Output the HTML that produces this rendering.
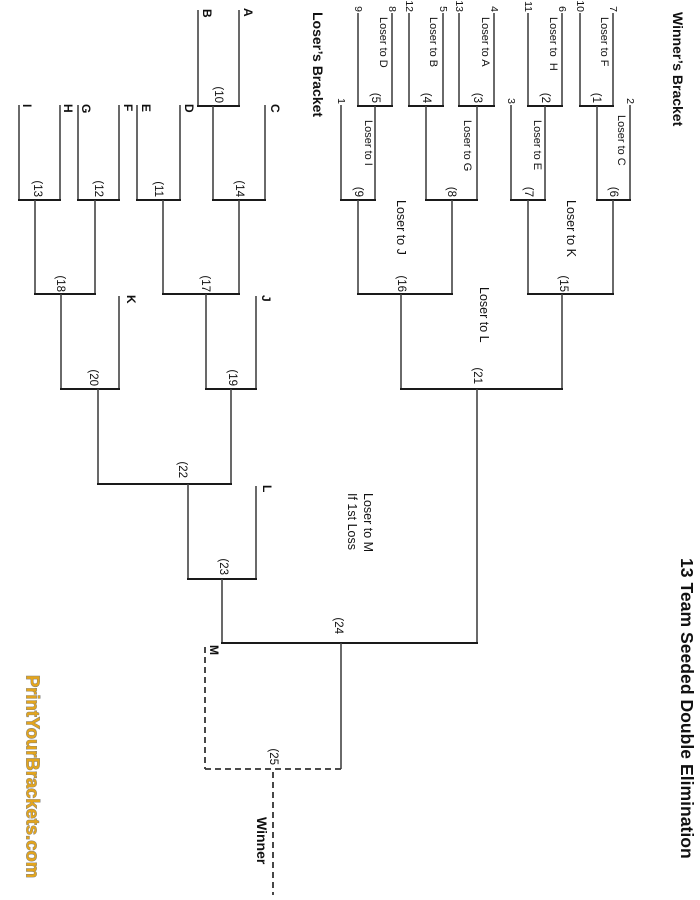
<!DOCTYPE html>
<html>
<head>
<meta charset="utf-8">
<style>
  html,body{margin:0;padding:0;background:#fff;}
  svg{display:block;}
  text{font-family:"Liberation Sans",Arial,sans-serif;fill:#111;}
  .h{stroke:#1a1a1a;stroke-width:2;fill:none;}
  .v{stroke:#444;stroke-width:1.6;fill:none;}
  .d{stroke:#333;stroke-width:1.8;fill:none;stroke-dasharray:6 4;}
  .lbl{font-size:11px;}
  .lbl2{font-size:12.5px;}
  .num{font-size:11.5px;}
  .seed{font-size:10.5px;}
  .team{font-size:12px;font-weight:bold;}
</style>
</head>
<body>
<svg width="700" height="900" viewBox="0 0 700 900" xmlns="http://www.w3.org/2000/svg">

<!-- ===== Winner's bracket lines ===== -->
<!-- M1 -->
<line class="v" x1="613" y1="13" x2="613" y2="106"/>
<line class="v" x1="580" y1="13" x2="580" y2="106"/>
<line class="h" x1="579" y1="106" x2="614" y2="106"/>
<!-- M2 -->
<line class="v" x1="562" y1="13" x2="562" y2="106"/>
<line class="v" x1="528" y1="13" x2="528" y2="106"/>
<line class="h" x1="527" y1="106" x2="563" y2="106"/>
<!-- M6 -->
<line class="v" x1="630" y1="105" x2="630" y2="200"/>
<line class="v" x1="597" y1="106" x2="597" y2="200"/>
<line class="h" x1="596" y1="200" x2="631" y2="200"/>
<!-- M7 -->
<line class="v" x1="511" y1="105" x2="511" y2="200"/>
<line class="v" x1="545" y1="106" x2="545" y2="200"/>
<line class="h" x1="510" y1="200" x2="546" y2="200"/>
<!-- M15 -->
<line class="v" x1="613" y1="200" x2="613" y2="294"/>
<line class="v" x1="528" y1="200" x2="528" y2="294"/>
<line class="h" x1="527" y1="294" x2="614" y2="294"/>
<!-- M3 -->
<line class="v" x1="494" y1="13" x2="494" y2="106"/>
<line class="v" x1="459" y1="13" x2="459" y2="106"/>
<line class="h" x1="458" y1="106" x2="495" y2="106"/>
<!-- M4 -->
<line class="v" x1="443" y1="13" x2="443" y2="106"/>
<line class="v" x1="409" y1="13" x2="409" y2="106"/>
<line class="h" x1="408" y1="106" x2="444" y2="106"/>
<!-- M5 -->
<line class="v" x1="392" y1="13" x2="392" y2="106"/>
<line class="v" x1="358" y1="13" x2="358" y2="106"/>
<line class="h" x1="357" y1="106" x2="393" y2="106"/>
<!-- M8 -->
<line class="v" x1="477" y1="106" x2="477" y2="200"/>
<line class="v" x1="426" y1="106" x2="426" y2="200"/>
<line class="h" x1="425" y1="200" x2="478" y2="200"/>
<!-- M9 -->
<line class="v" x1="375" y1="106" x2="375" y2="200"/>
<line class="v" x1="341" y1="105" x2="341" y2="200"/>
<line class="h" x1="340" y1="200" x2="376" y2="200"/>
<!-- M16 -->
<line class="v" x1="452" y1="200" x2="452" y2="294"/>
<line class="v" x1="358" y1="200" x2="358" y2="294"/>
<line class="h" x1="357" y1="294" x2="453" y2="294"/>
<!-- M21 -->
<line class="v" x1="562" y1="294" x2="562" y2="389"/>
<line class="v" x1="401" y1="294" x2="401" y2="389"/>
<line class="h" x1="400" y1="389" x2="563" y2="389"/>
<line class="v" x1="477" y1="389" x2="477" y2="643"/>

<!-- ===== Loser's bracket lines ===== -->
<!-- M10 -->
<line class="v" x1="239" y1="10" x2="239" y2="106"/>
<line class="v" x1="198" y1="10" x2="198" y2="106"/>
<line class="h" x1="197" y1="106" x2="240" y2="106"/>
<!-- M14 -->
<line class="v" x1="265" y1="105" x2="265" y2="200"/>
<line class="v" x1="213" y1="106" x2="213" y2="200"/>
<line class="h" x1="212" y1="200" x2="266" y2="200"/>
<!-- M11 -->
<line class="v" x1="180" y1="105" x2="180" y2="200"/>
<line class="v" x1="137" y1="105" x2="137" y2="200"/>
<line class="h" x1="136" y1="200" x2="181" y2="200"/>
<!-- M12 -->
<line class="v" x1="119" y1="105" x2="119" y2="200"/>
<line class="v" x1="78" y1="105" x2="78" y2="200"/>
<line class="h" x1="77" y1="200" x2="120" y2="200"/>
<!-- M13 -->
<line class="v" x1="60" y1="105" x2="60" y2="200"/>
<line class="v" x1="19" y1="105" x2="19" y2="200"/>
<line class="h" x1="18" y1="200" x2="61" y2="200"/>
<!-- M17 -->
<line class="v" x1="239" y1="200" x2="239" y2="294"/>
<line class="v" x1="163" y1="200" x2="163" y2="294"/>
<line class="h" x1="162" y1="294" x2="240" y2="294"/>
<!-- M18 -->
<line class="v" x1="95" y1="200" x2="95" y2="294"/>
<line class="v" x1="35" y1="200" x2="35" y2="294"/>
<line class="h" x1="34" y1="294" x2="96" y2="294"/>
<!-- M19 -->
<line class="v" x1="256" y1="296" x2="256" y2="389"/>
<line class="v" x1="206" y1="294" x2="206" y2="389"/>
<line class="h" x1="205" y1="389" x2="257" y2="389"/>
<!-- M20 -->
<line class="v" x1="119" y1="296" x2="119" y2="389"/>
<line class="v" x1="61" y1="294" x2="61" y2="389"/>
<line class="h" x1="60" y1="389" x2="120" y2="389"/>
<!-- M22 -->
<line class="v" x1="231" y1="389" x2="231" y2="484"/>
<line class="v" x1="98" y1="389" x2="98" y2="484"/>
<line class="h" x1="97" y1="484" x2="232" y2="484"/>
<!-- M23 -->
<line class="v" x1="256" y1="486" x2="256" y2="579"/>
<line class="v" x1="188" y1="484" x2="188" y2="579"/>
<line class="h" x1="187" y1="579" x2="257" y2="579"/>
<line class="v" x1="222" y1="579" x2="222" y2="643"/>
<!-- M24 -->
<line class="h" x1="221" y1="643" x2="478" y2="643"/>
<line class="v" x1="341" y1="643" x2="341" y2="769"/>
<!-- M25 dashed -->
<line class="d" x1="205" y1="647" x2="205" y2="769"/>
<line class="d" x1="205" y1="769" x2="341" y2="769"/>
<line class="d" x1="273" y1="772" x2="273" y2="895"/>

<!-- ===== Titles ===== -->
<text transform="translate(687,558) rotate(90)" dominant-baseline="central" style="font-size:17.6px;font-weight:bold;">13 Team Seeded Double Elimination</text>
<text transform="translate(678,12) rotate(90)" dominant-baseline="central" style="font-size:14px;font-weight:bold;">Winner’s Bracket</text>
<text transform="translate(318,12) rotate(90)" dominant-baseline="central" style="font-size:14px;font-weight:bold;">Loser’s Bracket</text>
<text transform="translate(262,817) rotate(90)" dominant-baseline="central" style="font-size:14px;font-weight:bold;">Winner</text>
<text transform="translate(33,675) rotate(90)" dominant-baseline="central" style="font-size:18.4px;font-weight:bold;fill:#E3A51E;stroke:#7d7d7d;stroke-width:0.9;paint-order:stroke;">PrintYourBrackets.com</text>

<!-- ===== Seeds ===== -->
<g class="seed">
<text transform="translate(613,12) rotate(90)" dominant-baseline="central" text-anchor="end">7</text>
<text transform="translate(580,12) rotate(90)" dominant-baseline="central" text-anchor="end">10</text>
<text transform="translate(562,12) rotate(90)" dominant-baseline="central" text-anchor="end">6</text>
<text transform="translate(528,12) rotate(90)" dominant-baseline="central" text-anchor="end">11</text>
<text transform="translate(494,12) rotate(90)" dominant-baseline="central" text-anchor="end">4</text>
<text transform="translate(459,12) rotate(90)" dominant-baseline="central" text-anchor="end">13</text>
<text transform="translate(443,12) rotate(90)" dominant-baseline="central" text-anchor="end">5</text>
<text transform="translate(409,12) rotate(90)" dominant-baseline="central" text-anchor="end">12</text>
<text transform="translate(392,12) rotate(90)" dominant-baseline="central" text-anchor="end">8</text>
<text transform="translate(358,12) rotate(90)" dominant-baseline="central" text-anchor="end">9</text>
<text transform="translate(630,104) rotate(90)" dominant-baseline="central" text-anchor="end">2</text>
<text transform="translate(511,104) rotate(90)" dominant-baseline="central" text-anchor="end">3</text>
<text transform="translate(341,104) rotate(90)" dominant-baseline="central" text-anchor="end">1</text>
</g>

<!-- ===== Team letters ===== -->
<g class="team">
<text transform="translate(248,8) rotate(90)" dominant-baseline="central">A</text>
<text transform="translate(207,9) rotate(90)" dominant-baseline="central">B</text>
<text transform="translate(275,104) rotate(90)" dominant-baseline="central">C</text>
<text transform="translate(189,104) rotate(90)" dominant-baseline="central">D</text>
<text transform="translate(146,104) rotate(90)" dominant-baseline="central">E</text>
<text transform="translate(128,104) rotate(90)" dominant-baseline="central">F</text>
<text transform="translate(86,104) rotate(90)" dominant-baseline="central">G</text>
<text transform="translate(68,104) rotate(90)" dominant-baseline="central">H</text>
<text transform="translate(27,104) rotate(90)" dominant-baseline="central">I</text>
<text transform="translate(266,295) rotate(90)" dominant-baseline="central">J</text>
<text transform="translate(131,295) rotate(90)" dominant-baseline="central">K</text>
<text transform="translate(267,485) rotate(90)" dominant-baseline="central">L</text>
<text transform="translate(214,645) rotate(90)" dominant-baseline="central">M</text>
</g>

<!-- ===== Match numbers ===== -->
<g class="num">
<text transform="translate(596,103) rotate(90)" dominant-baseline="central" text-anchor="end">(1</text>
<text transform="translate(545,103) rotate(90)" dominant-baseline="central" text-anchor="end">(2</text>
<text transform="translate(477,103) rotate(90)" dominant-baseline="central" text-anchor="end">(3</text>
<text transform="translate(426,103) rotate(90)" dominant-baseline="central" text-anchor="end">(4</text>
<text transform="translate(375,103) rotate(90)" dominant-baseline="central" text-anchor="end">(5</text>
<text transform="translate(613,197) rotate(90)" dominant-baseline="central" text-anchor="end">(6</text>
<text transform="translate(528,197) rotate(90)" dominant-baseline="central" text-anchor="end">(7</text>
<text transform="translate(451,197) rotate(90)" dominant-baseline="central" text-anchor="end">(8</text>
<text transform="translate(358,197) rotate(90)" dominant-baseline="central" text-anchor="end">(9</text>
<text transform="translate(563,292) rotate(90)" dominant-baseline="central" text-anchor="end">(15</text>
<text transform="translate(401,292) rotate(90)" dominant-baseline="central" text-anchor="end">(16</text>
<text transform="translate(477,384) rotate(90)" dominant-baseline="central" text-anchor="end">(21</text>
<text transform="translate(218,103) rotate(90)" dominant-baseline="central" text-anchor="end">(10</text>
<text transform="translate(239,197) rotate(90)" dominant-baseline="central" text-anchor="end">(14</text>
<text transform="translate(158,197) rotate(90)" dominant-baseline="central" text-anchor="end">(11</text>
<text transform="translate(98,197) rotate(90)" dominant-baseline="central" text-anchor="end">(12</text>
<text transform="translate(37,197) rotate(90)" dominant-baseline="central" text-anchor="end">(13</text>
<text transform="translate(205,292) rotate(90)" dominant-baseline="central" text-anchor="end">(17</text>
<text transform="translate(60,292) rotate(90)" dominant-baseline="central" text-anchor="end">(18</text>
<text transform="translate(232,386) rotate(90)" dominant-baseline="central" text-anchor="end">(19</text>
<text transform="translate(93,386) rotate(90)" dominant-baseline="central" text-anchor="end">(20</text>
<text transform="translate(182,478) rotate(90)" dominant-baseline="central" text-anchor="end">(22</text>
<text transform="translate(223,575) rotate(90)" dominant-baseline="central" text-anchor="end">(23</text>
<text transform="translate(338,634) rotate(90)" dominant-baseline="central" text-anchor="end">(24</text>
<text transform="translate(273,765) rotate(90)" dominant-baseline="central" text-anchor="end">(25</text>
</g>

<!-- ===== Loser-to labels ===== -->
<g class="lbl">
<text transform="translate(604,17) rotate(90)" dominant-baseline="central">Loser to F</text>
<text transform="translate(553,17) rotate(90)" dominant-baseline="central" xml:space="preserve">Loser to  H</text>
<text transform="translate(621,115) rotate(90)" dominant-baseline="central">Loser to C</text>
<text transform="translate(537,120) rotate(90)" dominant-baseline="central">Loser to E</text>
<text transform="translate(485,17) rotate(90)" dominant-baseline="central">Loser to A</text>
<text transform="translate(433,17) rotate(90)" dominant-baseline="central">Loser to B</text>
<text transform="translate(383,17) rotate(90)" dominant-baseline="central">Loser to D</text>
<text transform="translate(467,120) rotate(90)" dominant-baseline="central">Loser to G</text>
<text transform="translate(368,120) rotate(90)" dominant-baseline="central">Loser to I</text>
</g>
<g class="lbl2">
<text transform="translate(571,200) rotate(90)" dominant-baseline="central">Loser to K</text>
<text transform="translate(401,200) rotate(90)" dominant-baseline="central">Loser to J</text>
<text transform="translate(484,287) rotate(90)" dominant-baseline="central">Loser to L</text>
<text transform="translate(368,493) rotate(90)" dominant-baseline="central">Loser to M</text>
<text transform="translate(352,493) rotate(90)" dominant-baseline="central">If 1st Loss</text>
</g>

</svg>
</body>
</html>
